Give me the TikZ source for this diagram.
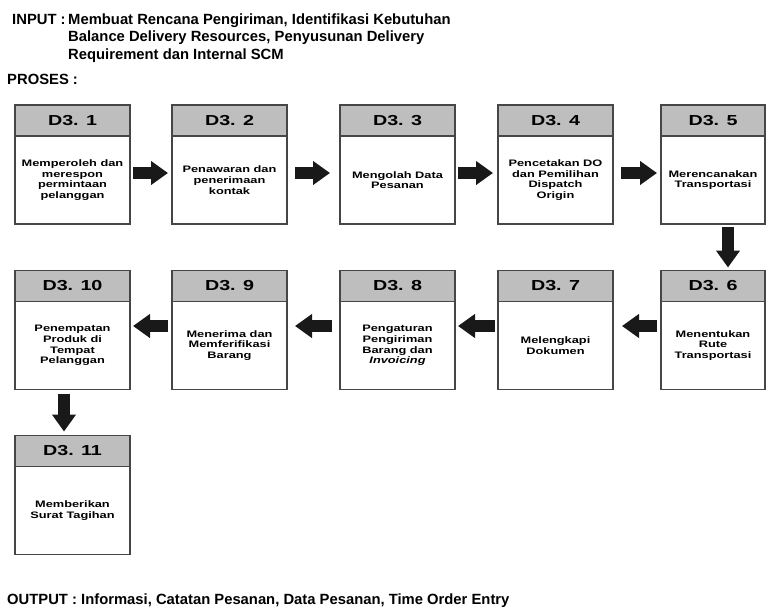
\documentclass[tikz,border=0pt]{standalone}
\usepackage{fontspec}
\setmainfont{Liberation Sans}
\newfontfamily\widesans[FakeStretch=1.36]{Liberation Sans}
\usetikzlibrary{arrows.meta}
\usetikzlibrary{positioning}
\definecolor{hdrgray}{RGB}{190,190,190}
\definecolor{boxline}{RGB}{70,70,70}
\definecolor{arrowblack}{RGB}{25,25,25}

\begin{document}
\begin{tikzpicture}
    [x=1pt,y=-1pt,
    stepbody/.style={rectangle,draw=boxline,fill=white,line width=1.2pt,
      inner sep=2pt,outer sep=0pt,minimum width=115pt,minimum height=88pt,
      align=center,font=\widesans\bfseries\fontsize{9.4}{10.7}\selectfont},
    stephead/.style={rectangle,draw=boxline,fill=hdrgray,line width=1.2pt,
      inner sep=0pt,outer sep=0pt,minimum width=115pt,minimum height=31pt,
      font=\widesans\bfseries\fontsize{14.5}{16}\selectfont},
    bigtext/.style={inner sep=0pt,align=left,
      font=\bfseries\fontsize{14.8}{17.5}\selectfont},
    flow/.style={draw=arrowblack,line width=12pt,
      -{Triangle[length=17pt,width=23pt]}}]

    \useasboundingbox (0,0) rectangle (766,616);

    % input / output texts
    \node (inlabel)  at (12,24)  [bigtext,anchor=base west] {INPUT :};
    \node (intext)   at (68,59)  [bigtext,anchor=base west]
      {Membuat Rencana Pengiriman, Identifikasi Kebutuhan\\
       Balance Delivery Resources, Penyusunan Delivery\\
       Requirement dan Internal SCM};
    \node (proses)   at (7,84)   [bigtext,anchor=base west] {PROSES :};
    \node (outtext)  at (7,604)  [bigtext,anchor=base west]
      {OUTPUT : Informasi, Catatan Pesanan, Data Pesanan, Time Order Entry};

    % first row
    \node (d31) at (72.5,180)  [stepbody] {Memperoleh dan\\merespon\\permintaan\\pelanggan};
    \node (d32) at (229.5,180) [stepbody] {Penawaran dan\\penerimaan\\kontak};
    \node (d33) at (397.5,180) [stepbody] {Mengolah Data\\Pesanan};
    \node (d34) at (555.5,180) [stepbody] {Pencetakan DO\\dan Pemilihan\\Dispatch\\Origin};
    \node (d35) at (713,180)   [stepbody,minimum width=104pt] {Merencanakan\\Transportasi};

    % second row
    \node (d310) at (72.5,345.5)  [stepbody] {Penempatan\\Produk di\\Tempat\\Pelanggan};
    \node (d39)  at (229.5,345.5) [stepbody] {Menerima dan\\Memferifikasi\\Barang};
    \node (d38)  at (397.5,345.5) [stepbody] {Pengaturan\\Pengiriman\\Barang dan\\\textit{Invoicing}};
    \node (d37)  at (555.5,345.5) [stepbody] {Melengkapi\\Dokumen};
    \node (d36)  at (713,345.5)   [stepbody,minimum width=104pt] {Menentukan\\Rute\\Transportasi};

    % third row
    \node (d311) at (72.5,510.5) [stepbody] {Memberikan\\Surat Tagihan};

    % headers
    \node (d31h)  [stephead,above=0pt of d31]  {D3. 1};
    \node (d32h)  [stephead,above=0pt of d32]  {D3. 2};
    \node (d33h)  [stephead,above=0pt of d33]  {D3. 3};
    \node (d34h)  [stephead,above=0pt of d34]  {D3. 4};
    \node (d35h)  [stephead,above=0pt of d35,minimum width=104pt] {D3. 5};
    \node (d36h)  [stephead,above=0pt of d36,minimum width=104pt] {D3. 6};
    \node (d37h)  [stephead,above=0pt of d37]  {D3. 7};
    \node (d38h)  [stephead,above=0pt of d38]  {D3. 8};
    \node (d39h)  [stephead,above=0pt of d39]  {D3. 9};
    \node (d310h) [stephead,above=0pt of d310] {D3. 10};
    \node (d311h) [stephead,above=0pt of d311] {D3. 11};

    % arrows
    \draw[flow,shorten <=3pt,shorten >=4pt]  ([yshift=7pt]d31.east) -- ([yshift=7pt]d32.west);
    \draw[flow,shorten <=8pt,shorten >=10pt] ([yshift=7pt]d32.east) -- ([yshift=7pt]d33.west);
    \draw[flow,shorten <=3pt,shorten >=5pt]  ([yshift=7pt]d33.east) -- ([yshift=7pt]d34.west);
    \draw[flow,shorten <=8pt,shorten >=4pt]  ([yshift=7pt]d34.east) -- ([yshift=7pt]d35.west);
    \draw[flow,shorten <=3pt,shorten >=3pt]  ([xshift=15pt]d35.south) -- ([xshift=15pt]d36h.north);
    \draw[flow,shorten <=4pt,shorten >=9pt]  ([yshift=19.5pt]d36.west) -- ([yshift=19.5pt]d37.east);
    \draw[flow,shorten <=3pt,shorten >=3pt]  ([yshift=19.5pt]d37.west) -- ([yshift=19.5pt]d38.east);
    \draw[flow,shorten <=8pt,shorten >=8pt]  ([yshift=19.5pt]d38.west) -- ([yshift=19.5pt]d39.east);
    \draw[flow,shorten <=4pt,shorten >=3pt]  ([yshift=19.5pt]d39.west) -- ([yshift=19.5pt]d310.east);
    \draw[flow,shorten <=4pt,shorten >=4pt]  ([xshift=-8.5pt]d310.south) -- ([xshift=-8.5pt]d311h.north);

  \end{tikzpicture}
\end{document}
